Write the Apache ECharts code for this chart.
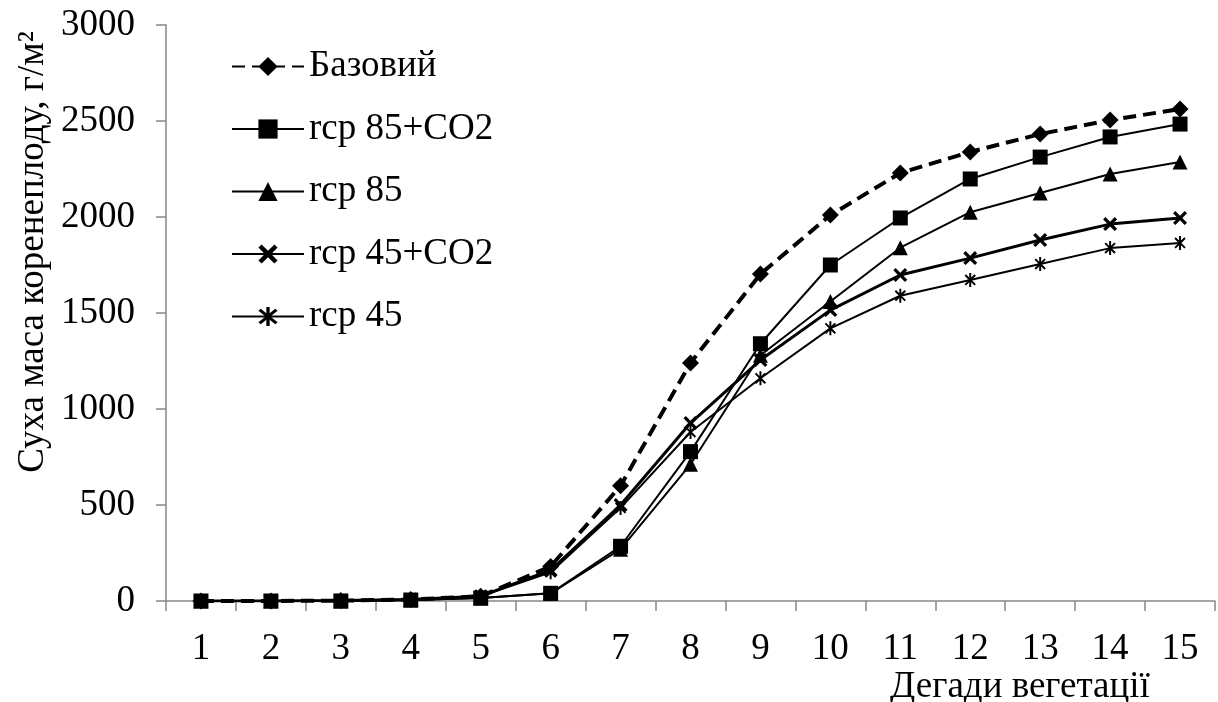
<!DOCTYPE html>
<html>
<head>
<meta charset="utf-8">
<script src="https://cdn.jsdelivr.net/npm/echarts@6/dist/echarts.min.js"></script>
<style>html,body{margin:0;padding:0;background:#fff;}#c{width:1218px;height:702px;}</style>
</head>
<body>
<div id="c"></div>
<script>
const categories = ['1','2','3','4','5','6','7','8','9','10','11','12','13','14','15'];
const yTicks = [0, 500, 1000, 1500, 2000, 2500, 3000];
const seriesNames = ['Базовий', 'rcp 85+CO2', 'rcp 85', 'rcp 45+CO2', 'rcp 45'];
const base     = [0, 0, 2, 8, 25, 180, 600, 1240, 1703, 2010, 2229, 2339, 2432, 2505, 2562];
const rcp85co2 = [0, 0, 0, 5, 15, 40, 285, 778, 1340, 1750, 1995, 2198, 2312, 2417, 2484];
const rcp85    = [0, 0, 0, 5, 15, 40, 270, 712, 1280, 1560, 1840, 2025, 2125, 2224, 2286];
const rcp45co2 = [0, 0, 2, 8, 25, 160, 500, 927, 1255, 1515, 1698, 1786, 1880, 1963, 1995];
const rcp45    = [0, 0, 2, 8, 25, 150, 485, 880, 1160, 1420, 1590, 1672, 1755, 1838, 1865];
const yTitle = 'Суха маса коренеплоду, г/м²';
const xTitle = 'Дегади вегетації';

const FONT = '"Liberation Serif", "Times New Roman", serif';
const FS = 37;
const chart = echarts.init(document.getElementById('c'), null, {renderer: 'canvas'});

// Build a filled outline of several arms radiating from the centre (for x and asterisk markers)
function armsPath(anglesDeg, R, h) {
  const a = anglesDeg.map(d => d * Math.PI / 180).sort((p, q) => p - q);
  const pts = [];
  for (let i = 0; i < a.length; i++) {
    const t = a[i];
    const t2 = i + 1 < a.length ? a[i + 1] : a[0] + 2 * Math.PI;
    const ux = Math.cos(t), uy = Math.sin(t), nx = -Math.sin(t), ny = Math.cos(t);
    pts.push([R * ux - h * nx, R * uy - h * ny]);
    pts.push([R * ux + h * nx, R * uy + h * ny]);
    const mid = (t + t2) / 2, d = h / Math.sin((t2 - t) / 2);
    pts.push([d * Math.cos(mid), d * Math.sin(mid)]);
  }
  return 'path://' + pts.map((p, i) => (i ? 'L' : 'M') + (p[0] + 20).toFixed(3) + ',' + (p[1] + 20).toFixed(3)).join(' ') + ' Z';
}
const crossPath = armsPath([45, 135, 225, 315], 10, 2.0);
const starPath = armsPath([45, 90, 135, 225, 270, 315], 10, 1.4);

function mk(name, data, symbol, size, lw, extra) {
  return Object.assign({
    name: name, type: 'line', data: data, symbol: symbol, symbolSize: size,
    symbolKeepAspect: true, showAllSymbol: true, animation: false,
    lineStyle: {color: '#000', width: lw},
    itemStyle: {color: '#000'}
  }, extra || {});
}

chart.setOption({
  backgroundColor: '#fff',
  animation: false,
  grid: {left: 166, right: 3, top: 25, bottom: 101, containLabel: false},
  legend: {
    orient: 'vertical', left: 226, top: 43, itemWidth: 72, itemHeight: 24, itemGap: 25.5,
    textStyle: {fontFamily: FONT, fontSize: FS, color: '#000', lineHeight: 37},
    data: seriesNames
  },
  xAxis: {
    type: 'category', data: categories, boundaryGap: true,
    axisLine: {lineStyle: {color: '#868686', width: 1.5}},
    axisTick: {show: true, length: 10, alignWithLabel: false, lineStyle: {color: '#868686', width: 1.5}},
    axisLabel: {fontFamily: FONT, fontSize: FS, color: '#000', margin: 30, interval: 0},
    splitLine: {show: false}
  },
  yAxis: {
    type: 'value', min: 0, max: 3000, interval: 500,
    axisLine: {show: true, lineStyle: {color: '#868686', width: 1.5}},
    axisTick: {show: true, length: 10, lineStyle: {color: '#868686', width: 1.5}},
    axisLabel: {fontFamily: FONT, fontSize: FS, color: '#000', margin: 31,
      formatter: v => (yTicks.indexOf(v) >= 0 ? String(v) : '')},
    splitLine: {show: false}
  },
  graphic: [
    {type: 'text', x: 33, y: 252, rotation: Math.PI / 2,
      style: {text: yTitle, font: FS + 'px ' + FONT, fill: '#000', textAlign: 'center', textVerticalAlign: 'middle'}},
    {type: 'text', x: 1020, y: 687,
      style: {text: xTitle, font: FS + 'px ' + FONT, fill: '#000', textAlign: 'center', textVerticalAlign: 'middle'}}
  ],
  series: [
    mk(seriesNames[4], rcp45, starPath, 14, 2),
    mk(seriesNames[3], rcp45co2, crossPath, 14, 3),
    mk(seriesNames[2], rcp85, 'triangle', 15, 2),
    mk(seriesNames[1], rcp85co2, 'rect', 15, 2),
    mk(seriesNames[0], base, 'diamond', 17, 4, {lineStyle: {color: '#000', width: 4, type: [13, 7]}})
  ]
});
</script>
</body>
</html>
